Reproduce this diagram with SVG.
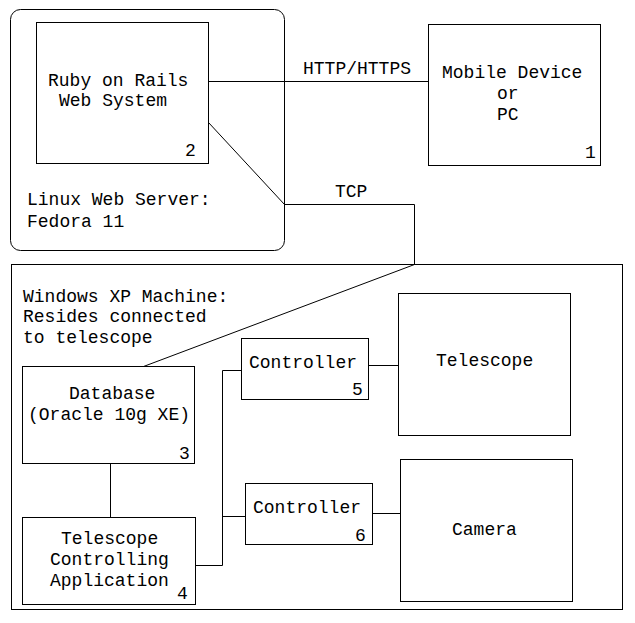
<svg xmlns="http://www.w3.org/2000/svg" width="635" height="623" viewBox="0 0 635 623">
<style>
.box{fill:none;stroke:#000;stroke-width:1}
.c{fill:none;stroke:#000;stroke-width:1}
text{font-family:"Liberation Mono","Courier New",monospace;font-size:18px;fill:#000}
</style>
<rect width="635" height="623" fill="#fff"/>
<g id="linux-server">
<rect class="box" x="10.5" y="9.5" width="274" height="241" rx="10" ry="10"/>
<text x="27" y="205">Linux Web Server:</text>
<text x="27" y="227">Fedora 11</text>
</g>
<g id="windows-machine">
<rect class="box" x="11.5" y="264.5" width="611" height="345"/>
<text x="23" y="302">Windows XP Machine:</text>
<text x="23" y="322">Resides connected</text>
<text x="23" y="343">to telescope</text>
</g>
<g id="connectors">
<path class="c" d="M208.5 81.5 H428.5"/>
<path class="c" d="M208.5 122.5 L284.5 204.5 H414.5 V264.5 L143.5 366.5"/>
<path class="c" d="M110.5 463.5 V517.5"/>
<path class="c" d="M195.5 565.5 H222.5 V370.5 H241.5 M222.5 516.5 H245.5"/>
<path class="c" d="M368.5 365.5 H398.5"/>
<path class="c" d="M372.5 513.5 H400.5"/>
<text x="303" y="74">HTTP/HTTPS</text>
<text x="335" y="197">TCP</text>
</g>
<g id="node-ruby">
<rect class="box" x="36.5" y="22.5" width="172" height="141"/>
<text x="48" y="86">Ruby on Rails</text>
<text x="59" y="106">Web System</text>
<text x="185" y="156">2</text>
</g>
<g id="node-mobile">
<rect class="box" x="428.5" y="24.5" width="172" height="141"/>
<text x="442" y="78">Mobile Device</text>
<text x="497" y="99">or</text>
<text x="497" y="120">PC</text>
<text x="585" y="158">1</text>
</g>
<g id="node-database">
<rect class="box" x="22.5" y="366.5" width="172" height="97"/>
<text x="69" y="399">Database</text>
<text x="28" y="420">(Oracle 10g XE)</text>
<text x="179" y="459">3</text>
</g>
<g id="node-app">
<rect class="box" x="22.5" y="517.5" width="173" height="87"/>
<text x="61" y="544">Telescope</text>
<text x="50" y="565">Controlling</text>
<text x="50" y="586">Application</text>
<text x="177" y="599">4</text>
</g>
<g id="node-controller5">
<rect class="box" x="241.5" y="338.5" width="127" height="61"/>
<text x="249" y="368">Controller</text>
<text x="352" y="395">5</text>
</g>
<g id="node-controller6">
<rect class="box" x="245.5" y="483.5" width="127" height="61"/>
<text x="253" y="513">Controller</text>
<text x="355" y="541">6</text>
</g>
<g id="node-telescope">
<rect class="box" x="398.5" y="293.5" width="172" height="142"/>
<text x="436" y="366">Telescope</text>
</g>
<g id="node-camera">
<rect class="box" x="400.5" y="459.5" width="172" height="142"/>
<text x="452" y="535">Camera</text>
</g>
</svg>
